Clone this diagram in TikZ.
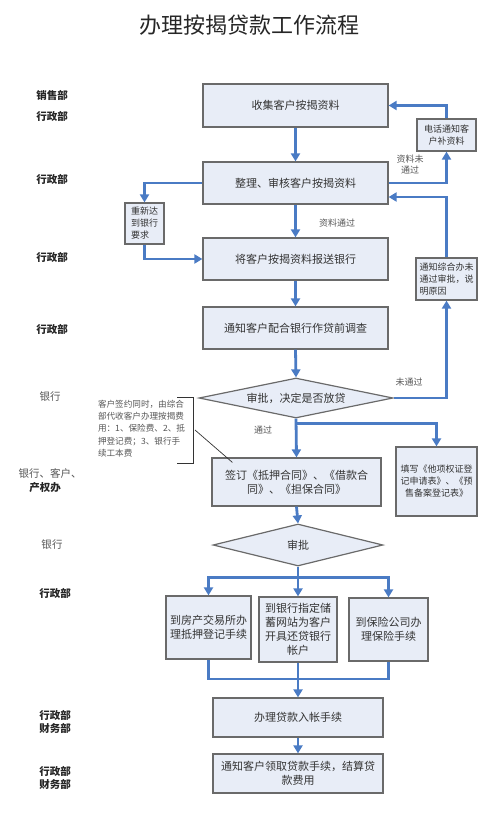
\documentclass[tikz,border=0pt]{standalone}
\usepackage{fontspec}
\setmainfont{Noto Sans CJK SC}
\usetikzlibrary{arrows.meta,shapes.geometric}
\definecolor{boxfill}{HTML}{E8EDF7}
\definecolor{boxline}{HTML}{6A6A6A}
\definecolor{flow}{HTML}{4A7BC4}
\definecolor{txt}{HTML}{333333}
\definecolor{side}{HTML}{555555}
\tikzset{
  box/.style={draw=boxline, fill=boxfill, line width=1.2pt, inner sep=2pt, align=center, text=txt, font=\fontsize{11}{14}\selectfont},
  smallbox/.style={box, font=\fontsize{9}{12}\selectfont},
  dia/.style={diamond, draw=boxline, fill=boxfill, line width=1.2pt, inner sep=0pt},
  flowarrow/.style={draw=flow, line width=2.8pt, -{Triangle[width=9pt,length=8pt]}},
  flowline/.style={draw=flow, line width=2.8pt},
  lab/.style={text=side, font=\fontsize{9}{11}\selectfont, align=center},
  dept/.style={text=black!85, font=\bfseries\fontsize{10.5}{13}\selectfont, align=center},
  deptr/.style={text=side, font=\fontsize{10.5}{13}\selectfont, align=center},
}
\begin{document}
\begin{tikzpicture}[x=1pt,y=-1pt]
\useasboundingbox (0,0) rectangle (500,822);
\node[font=\fontsize{22}{26}\selectfont, text=black!85] (title) at (249,25) {办理按揭贷款工作流程};

% main boxes
\node[box, minimum width=185, minimum height=43] (b1) at (295.5,105.5) {收集客户按揭资料};
\node[box, minimum width=185, minimum height=42] (b2) at (295.5,183) {整理、审核客户按揭资料};
\node[box, minimum width=185, minimum height=42] (b3) at (295.5,259) {将客户按揭资料报送银行};
\node[box, minimum width=185, minimum height=42] (b4) at (295.5,328) {通知客户配合银行作贷前调查};
\node[dia, minimum width=194, minimum height=40] (d1) at (296,398) {};
\node[text=txt, font=\fontsize{11}{14}\selectfont] (d1t) at (d1.center) {审批，决定是否放贷};
\node[box, minimum width=169, minimum height=48] (b5) at (296.5,482) {签订《抵押合同》、《借款合\\同》、《担保合同》};
\node[dia, minimum width=170, minimum height=42] (d2) at (298,545) {};
\node[text=txt, font=\fontsize{11}{14}\selectfont] (d2t) at (d2.center) {审批};
\node[box, minimum width=85, minimum height=63] (bA) at (208.5,627.5) {到房产交易所办\\理抵押登记手续};
\node[box, minimum width=78, minimum height=65] (bB) at (298,629.5) {到银行指定储\\蓄网站为客户\\开具还贷银行\\帐户};
\node[box, minimum width=79, minimum height=63] (bC) at (388.5,629.5) {到保险公司办\\理保险手续};
\node[box, minimum width=170, minimum height=39] (b6) at (298,717.5) {办理贷款入帐手续};
\node[box, minimum width=170, minimum height=39] (b7) at (298,773.5) {通知客户领取贷款手续，结算贷\\款费用};

% side boxes
\node[smallbox, minimum width=59, minimum height=32] (phone) at (446.5,135) {电话通知客\\户补资料};
\node[smallbox, minimum width=39, minimum height=41, align=left] (redo) at (144.5,223.5) {重新达\\到银行\\要求};
\node[smallbox, minimum width=61, minimum height=42, align=left] (notify) at (446.5,279) {通知综合办未\\通过审批，说\\明原因};
\node[smallbox, minimum width=81, minimum height=69] (fillin) at (436.5,481.5) {填写《他项权证登\\记申请表》、《预\\售备案登记表》};

% flow arrows
\draw[flowarrow] (b1.south) -- (b2.north);
\draw[flowarrow] (b2.east) -| (phone.south);
\draw[flowarrow] (phone.north) |- (b1.east);
\draw[flowarrow] (notify.north) |- ([yshift=-14pt]b2.east);
\draw[flowarrow] (b2.west) -| (redo.north);
\draw[flowarrow] (redo.south) |- (b3.west);
\draw[flowarrow] (b2.south) -- (b3.north);
\draw[flowarrow] (b3.south) -- (b4.north);
\draw[flowarrow] (b4.south) -- (d1.north);
\draw[flowarrow] (d1.east) -| (notify.south);
\draw[flowarrow] (d1.south) -- (b5.north);
\draw[flowarrow] ([yshift=-5pt]d1.south) -| (fillin.north);
\draw[flowarrow] (b5.south) -- (d2.north);
\coordinate (j1) at ([yshift=-11pt]d2.south);
\draw[flowline] (d2.south) -- (j1);
\draw[flowarrow] (j1) -| (bA.north);
\draw[flowarrow] (j1) -| (bC.north);
\draw[flowarrow] (j1) -- (bB.north);
\coordinate (j2) at (bB.south |- 0,679);
\draw[flowline] (bA.south) |- (j2);
\draw[flowline] (bC.south) |- (j2);
\draw[flowarrow] (bB.south) -- (b6.north);
\draw[flowarrow] (b6.south) -- (b7.north);

% flow labels
\node[lab] (l1) at (410,165) {资料未\\通过};
\node[lab] (l2) at (337,223) {资料通过};
\node[lab] (l3) at (409,382) {未通过};
\node[lab] (l4) at (263,430) {通过};

% note with bracket
\node[lab, align=left, font=\fontsize{8.6}{12.2}\selectfont] (note) at (141.5,428.5) {客户签约同时，由综合\\部代收客户办理按揭费\\用：1、保险费、2、抵\\押登记费；3、银行手\\续工本费};
\coordinate (br1) at (177,397);
\coordinate (br2) at (193,397);
\coordinate (br3) at (193,463);
\coordinate (br4) at (177,463);
\draw[black!80, line width=0.9pt] (br1) -- (br2) -- (br3) -- (br4);
\coordinate (np) at (195,430);
\draw[black!80, line width=0.7pt] (np) -- ([xshift=21pt,yshift=-5pt]b5.north west);

% department labels
\node[dept] (dp1) at (52,95) {销售部};
\node[dept] (dp2) at (52,116) {行政部};
\node[dept] (dp3) at (52,179) {行政部};
\node[dept] (dp4) at (52,257) {行政部};
\node[dept] (dp5) at (52,329) {行政部};
\node[deptr] (dp6) at (50,397) {银行};
\node[deptr] (dp7) at (50,473) {银行、客户、};
\node[dept] (dp8) at (45,488) {产权办};
\node[deptr] (dp9) at (52,545) {银行};
\node[dept] (dp10) at (55,593) {行政部};
\node[dept] (dp11) at (55,722) {行政部\\财务部};
\node[dept] (dp12) at (55,778) {行政部\\财务部};
\end{tikzpicture}
\end{document}
